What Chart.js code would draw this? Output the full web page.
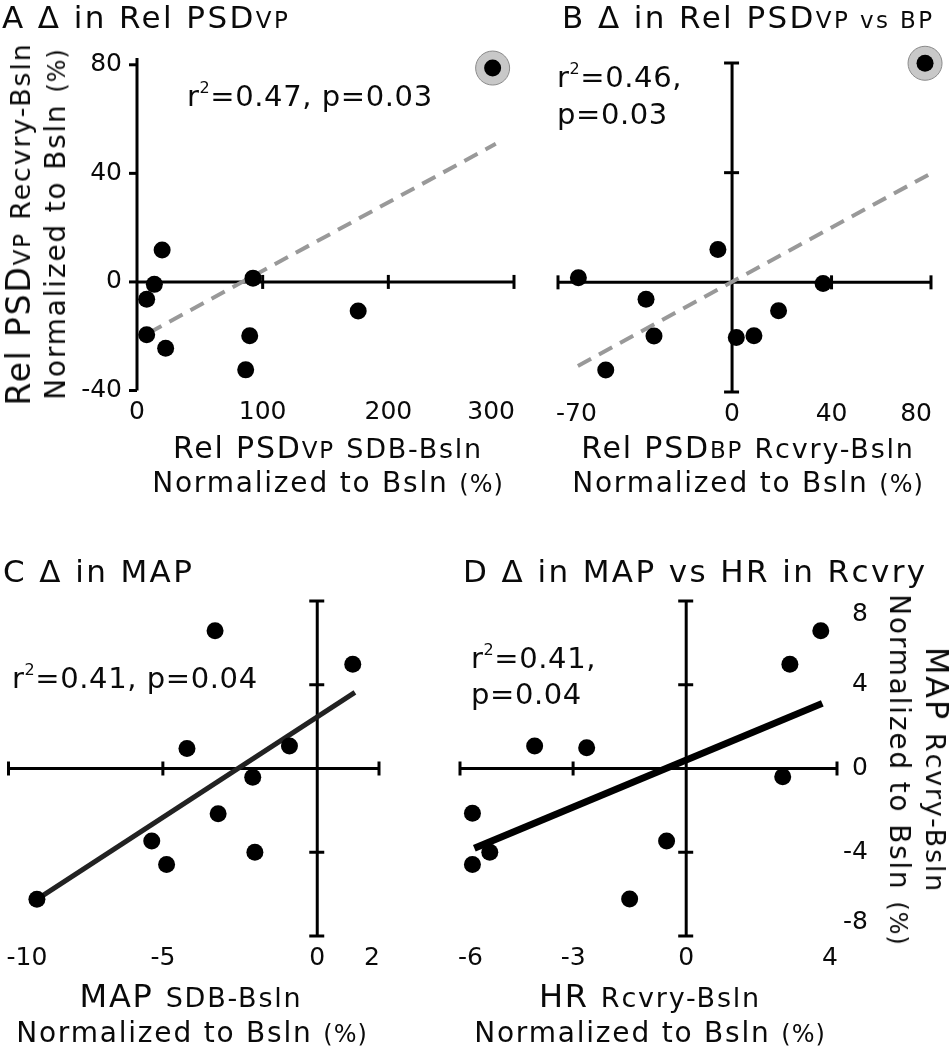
<!DOCTYPE html>
<html>
<head>
<meta charset="utf-8">
<script src="https://cdn.jsdelivr.net/npm/chart.js@4/dist/chart.umd.min.js"></script>
<style>
  body { margin: 0; background: #fff; }
  #fig { position: relative; width: 949px; height: 1050px; overflow: hidden;
         font-family: "DejaVu Sans", sans-serif; color: #0a0a0a; }
  #fig canvas { position: absolute; left: 0; top: 0; }
  .t { position: absolute; white-space: nowrap; line-height: 1; }
  .t span { line-height: 1; }
  .title { font-size: 31px; letter-spacing: 2.4px; }
  .sub { font-size: 23px; }
  .pc { font-size: 24px; letter-spacing: 1px; }
  .stat { font-size: 29px; letter-spacing: 0.6px; }
  .stat sup { font-size: 16px; vertical-align: 13px; }
  .xt { transform: translateX(-50%); letter-spacing: 1.8px; }
  .yt { transform: translate(-50%, -50%) rotate(-90deg); text-align: center; letter-spacing: 1.8px; }
  .yt.r { transform: translate(-50%, -50%) rotate(90deg); }
  .yt div { height: 37px; line-height: 37px; }
</style>
</head>
<body>
<div id="fig">
  <canvas id="chartA" width="949" height="1050"></canvas>
  <canvas id="chartB" width="949" height="1050"></canvas>
  <canvas id="chartC" width="949" height="1050"></canvas>
  <canvas id="chartD" width="949" height="1050"></canvas>

  <!-- panel titles -->
  <div class="t title" style="left:2px; top:2px;">A Δ in Rel PSD<span class="sub">VP</span></div>
  <div class="t title" style="left:562px; top:2px;">B Δ in Rel PSD<span class="sub">VP vs BP</span></div>
  <div class="t title" style="left:3px; top:556px;">C Δ in MAP</div>
  <div class="t title" style="left:463px; top:556px;">D Δ in MAP vs HR in Rcvry</div>

  <!-- regression stats -->
  <div class="t stat" style="left:187px; top:80px;">r<sup>2</sup>=0.47, p=0.03</div>
  <div class="t stat" style="left:557px; top:61px;">r<sup>2</sup>=0.46,</div>
  <div class="t stat" style="left:557px; top:100px;">p=0.03</div>
  <div class="t stat" style="left:12px; top:662px;">r<sup>2</sup>=0.41, p=0.04</div>
  <div class="t stat" style="left:471px; top:642px;">r<sup>2</sup>=0.41,</div>
  <div class="t stat" style="left:471px; top:680px;">p=0.04</div>

  <!-- x axis titles -->
  <div class="t xt" style="left:328px; top:433px; font-size:30px;">Rel PSD<span class="sub">VP</span> <span style="font-size:27px">SDB-Bsln</span></div>
  <div class="t xt" style="left:328px; top:469px; font-size:28px;">Normalized to Bsln <span class="pc">(%)</span></div>
  <div class="t xt" style="left:748px; top:433px; font-size:30px;">Rel PSD<span class="sub">BP</span> <span style="font-size:27px">Rcvry-Bsln</span></div>
  <div class="t xt" style="left:748px; top:469px; font-size:28px;">Normalized to Bsln <span class="pc">(%)</span></div>
  <div class="t xt" style="left:191px; top:980px; font-size:32px;">MAP <span style="font-size:27px">SDB-Bsln</span></div>
  <div class="t xt" style="left:192px; top:1019px; font-size:28px;">Normalized to Bsln <span class="pc">(%)</span></div>
  <div class="t xt" style="left:650px; top:980px; font-size:32px;">HR <span style="font-size:27px">Rcvry-Bsln</span></div>
  <div class="t xt" style="left:650px; top:1019px; font-size:28px;">Normalized to Bsln <span class="pc">(%)</span></div>

  <!-- y axis titles -->
  <div class="t yt" style="left:37px; top:224px;">
    <div style="font-size:33px;">Rel PSD<span class="sub">VP</span> <span style="font-size:27px">Recvry-Bsln</span></div>
    <div style="font-size:28px;">Normalized to Bsln <span class="pc">(%)</span></div>
  </div>
  <div class="t yt r" style="left:918px; top:770px;">
    <div style="font-size:32px;">MAP <span style="font-size:27px">Rcvry-Bsln</span></div>
    <div style="font-size:28px;">Normalized to Bsln <span class="pc">(%)</span></div>
  </div>
</div>

<script>
/* ---------- A: Rel PSD VP, SDB-Bsln vs Recvry-Bsln ---------- */
const aX = [20, 13.8, 7.7, 7.7, 22.8, 92.3, 89.7, 86.5, 176, 283];
const aY = [11.8, -0.9, -6.4, -19.5, -24.4, 1.4, -19.8, -32.4, -10.7, 78.8];
const aRing = [283, 78.8];
const aFitX = [9, 285.5];
const aFitY = [-18.9, 50.9];
const aXRange = [0, 300];
const aYRange = [-40, 82.5];
const aXTicks = [0, 100, 200, 300];
const aYTicks = [80, 40, 0, -40];

/* ---------- B: Rel PSD VP vs Rel PSD BP, Rcvry-Bsln ---------- */
const bX = [-5.7, -61.8, -34.6, -31.4, -50.8, 1.7, 8.8, 18.7, 36.6, 77.6];
const bY = [12.0, 1.7, -6.2, -19.6, -32.0, -20.1, -19.5, -10.4, -0.4, 79.9];
const bRing = [77.6, 79.9];
const bFitX = [-62, 80.5];
const bFitY = [-30.5, 40];
const bXRange = [-70, 80];
const bYRange = [-40, 80];
const bXTicks = [-70, 0, 40, 80];
const bYTicks = [80, 40, 0, -40];

/* ---------- C: MAP SDB-Bsln vs MAP Rcvry-Bsln ---------- */
const cX = [-9.08, -3.31, 1.15, -4.22, -0.90, -2.09, -3.21, -5.36, -4.88, -2.02];
const cY = [-6.25, 6.58, 4.98, 0.96, 1.07, -0.42, -2.16, -3.46, -4.58, -4.0];
const cFitX = [-9.03, 1.22];
const cFitY = [-6.2, 3.64];
const cXRange = [-10, 2];
const cYRange = [-8, 8];
const cXTicks = [-10, -5, 0, 2];
const cYTicks = [8, 4, 0, -4, -8];

/* ---------- D: HR Rcvry-Bsln vs MAP Rcvry-Bsln ---------- */
const dX = [3.57, 2.75, 2.56, -4.02, -2.64, -0.52, -1.5, -5.67, -5.67, -5.21];
const dY = [6.58, 4.98, -0.39, 1.07, 0.99, -3.46, -6.23, -2.14, -4.58, -4.0];
const dFitX = [-5.62, 3.61];
const dFitY = [-3.81, 3.11];
const dXRange = [-6, 4];
const dYRange = [-8, 8];
const dXTicks = [-6, -3, 0, 4];
const dYTicks = [8, 4, 0, -4, -8];

const pts = (xs, ys) => xs.map((x, i) => ({ x, y: ys[i] }));

/* axes crossing at zero, drawn from the chart's own scales */
const crossAxes = {
  id: "crossAxes",
  beforeDatasetsDraw(chart, args, o) {
    const { ctx, chartArea: ca } = chart;
    const xs = chart.scales.x, ys = chart.scales.y;
    const x0 = xs.getPixelForValue(0), y0 = ys.getPixelForValue(0);
    const seg = (a, b, c, d) => { ctx.beginPath(); ctx.moveTo(a, b); ctx.lineTo(c, d); ctx.stroke(); };
    ctx.save();
    ctx.strokeStyle = "#000";
    ctx.lineWidth = 3;
    seg(ca.left, y0, ca.right, y0);
    seg(x0, ca.top, x0, ca.bottom);
    const h = 7;
    o.xTicks.forEach(v => {
      if (v === 0) return;
      const p = xs.getPixelForValue(v);
      seg(p, y0 - h, p, y0 + h);
    });
    o.yTicks.forEach(v => {
      if (v === 0 && !o.yLeftTicks) return;
      const p = ys.getPixelForValue(v);
      seg(x0 - h - 1, p, o.yLeftTicks ? x0 : x0 + h, p);
    });

    ctx.fillStyle = "#0a0a0a";
    ctx.font = "25px 'DejaVu Sans'";
    ctx.textBaseline = "middle";
    const n = o.xTicks.length;
    o.xTicks.forEach((v, i) => {
      ctx.textAlign = i === n - 1 ? "right" : (i === 0 && !o.centerFirst ? "left" : "center");
      let p = xs.getPixelForValue(v);
      if (i === 0 && !o.centerFirst) p -= 2;
      if (i === n - 1) p += 1;
      ctx.fillText(String(v), p, ca.bottom + 22);
    });
    if (o.yLabels) {
      const m = o.yTicks.length;
      ctx.textAlign = "right";
      o.yTicks.forEach((v, i) => {
        const lx = o.yLabels === "left" ? x0 - 15 : ca.right + 31;
        ctx.textBaseline = !o.yInner ? "middle" : (i === 0 ? "top" : (i === m - 1 ? "bottom" : "middle"));
        let py = ys.getPixelForValue(v);
        if (o.yInner && i === 0) py += 1;
        if (o.yInner && i === m - 1) py -= 1;
        ctx.fillText(String(v), lx, py);
      });
    }
    ctx.restore();
  }
};

function panel(id, box, xRange, yRange, xy, ring, fit, fitStyle, axes) {
  const datasets = [
    { data: xy, pointRadius: 8.5, pointBackgroundColor: "#000", pointBorderWidth: 0, clip: false }
  ];
  if (ring) {
    datasets.push({ data: [{ x: ring[0], y: ring[1] }], pointRadius: 17,
      pointBackgroundColor: "#c8c8c8", pointBorderColor: "#8a8a8a", pointBorderWidth: 1, clip: false });
  }
  datasets.push(Object.assign({ data: fit, showLine: true, pointRadius: 0, clip: false }, fitStyle));

  return new Chart(document.getElementById(id), {
    type: "scatter",
    data: { datasets },
    options: {
      responsive: false,
      animation: false,
      devicePixelRatio: 1,
      layout: { padding: { left: box[0], top: box[1], right: 949 - box[2], bottom: 1050 - box[3] } },
      scales: {
        x: { type: "linear", display: false, min: xRange[0], max: xRange[1] },
        y: { type: "linear", display: false, min: yRange[0], max: yRange[1] }
      },
      plugins: { legend: { display: false }, tooltip: { enabled: false }, crossAxes: axes },
      events: []
    },
    plugins: [crossAxes]
  });
}

const dashed = { borderColor: "#999", borderWidth: 4, borderDash: [15, 9] };

panel("chartA", [137, 58, 514, 390.5], aXRange, aYRange, pts(aX, aY), aRing, pts(aFitX, aFitY), dashed,
  { xTicks: aXTicks, yTicks: aYTicks, yLeftTicks: true, yLabels: "left", centerFirst: true });

panel("chartB", [558, 63, 936, 392], bXRange, bYRange, pts(bX, bY), bRing, pts(bFitX, bFitY), dashed,
  { xTicks: bXTicks, yTicks: bYTicks });

panel("chartC", [2, 601, 379, 936], cXRange, cYRange, pts(cX, cY), null, pts(cFitX, cFitY),
  { borderColor: "#222", borderWidth: 5 },
  { xTicks: cXTicks, yTicks: cYTicks });

panel("chartD", [460, 601, 837, 936], dXRange, dYRange, pts(dX, dY), null, pts(dFitX, dFitY),
  { borderColor: "#000", borderWidth: 7 },
  { xTicks: dXTicks, yTicks: dYTicks, yLabels: "right", yInner: true });
</script>
</body>
</html>
